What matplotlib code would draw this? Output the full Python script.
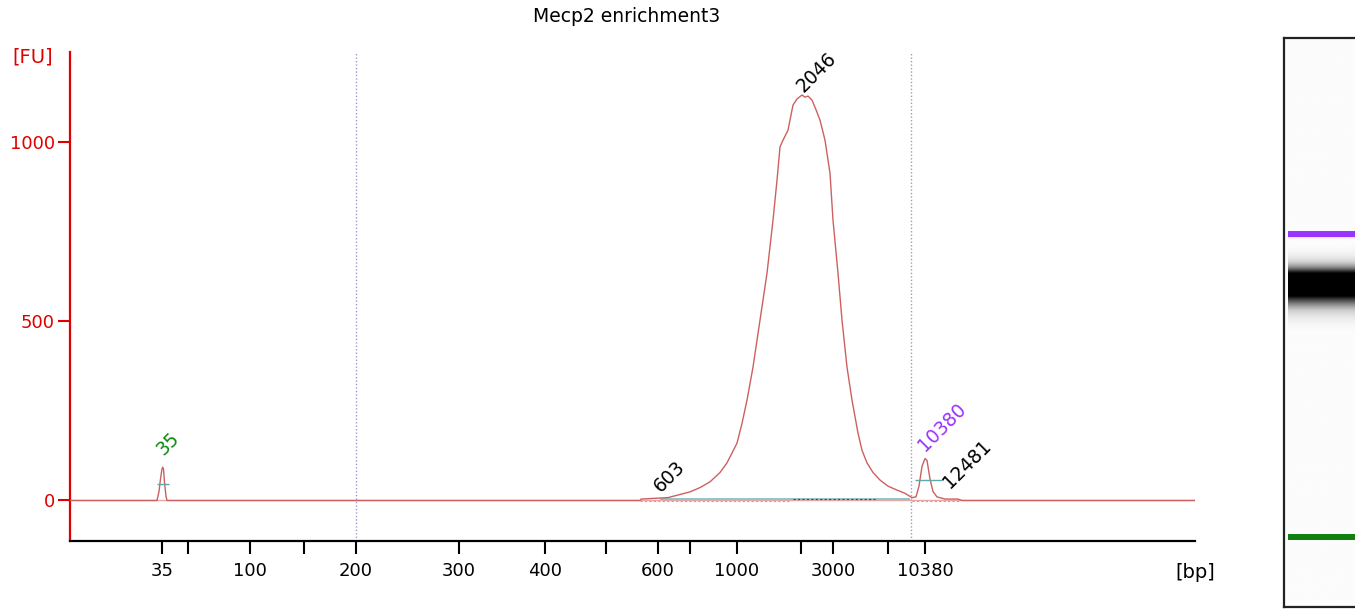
import numpy as np
import matplotlib
matplotlib.use("Agg")
import matplotlib.pyplot as plt

# migration position (arbitrary units along the run) and fluorescence [FU]
trace_pos = [70, 157, 159, 160.5, 162, 162.7, 163.5, 164.5, 166, 167,
             640, 641, 668, 690, 700, 710, 720, 727, 737, 742, 747, 753, 760,
             767, 773, 777, 780, 783, 788, 793, 797, 802, 805, 808, 812, 816,
             820, 825, 830, 833, 838, 842, 847, 852, 858, 862, 867, 873, 880,
             888, 897, 905, 912, 916, 919, 922, 925, 927, 930, 933, 937, 945,
             958, 962, 1195]
trace_fu = [0, 0, 25, 60, 88, 93, 88, 50, 12, 0,
            0, 4, 8, 24, 36, 52, 78, 105, 160, 215, 280, 372, 503,
            634, 782, 893, 986, 1005, 1033, 1103, 1120, 1131, 1125, 1128, 1117, 1090,
            1061, 1005, 913, 782, 634, 503, 372, 280, 188, 140, 105, 78, 57,
            40, 29, 20, 8, 10, 40, 95, 117, 112, 60, 25, 10, 4,
            4, 0, 0]

# size ladder on the x axis
tick_pos = [162, 250, 356, 459, 545, 658, 737, 833, 925]
tick_lbl = ["35", "100", "200", "300", "400", "600", "1000", "3000", "10380"]
minor_pos = [188, 304, 606, 690, 801, 888]

# called peaks: label, position, height, colour
peak_lbl = ["35", "603", "2046", "10380", "12481"]
peak_pos = [166, 664, 806, 928, 953]
peak_fu = [115, 12, 1130, 128, 24]
peak_col = ["#108a10", "black", "black", "#9933ff", "black"]

marker_lines = [356, 911]  # lower / upper marker

fig = plt.figure(figsize=(13.55, 6.09), dpi=100)
ax = fig.add_axes([70/1355, 68/609, 1125/1355, 489/609])

ax.axhline(0, color="#e8a8a8", lw=1, zorder=1)
ax.plot(trace_pos, trace_fu, color="#cc6060", lw=1, zorder=3)

# peak / region bars
ax.hlines(46, 156.5, 169, color="#5fa8a8", lw=1, zorder=4)
ax.hlines(58, 915, 942, color="#5fa8a8", lw=1, zorder=4)
ax.hlines(3, 660, 910, color="#7fbcbc", lw=1.2, zorder=2)
ax.hlines(4, 793, 875, color="#803030", lw=0.8, ls=(0, (2, 2)), zorder=2)
ax.hlines(-2, 640, 790, color="#e89090", lw=0.8, ls=(0, (2, 2)), zorder=2)
ax.hlines(-2, 912, 960, color="#e89090", lw=0.8, ls=(0, (2, 2)), zorder=2)

for m in marker_lines:
    ax.axvline(m, color="#9a9ac8", lw=1, ls=(0, (1, 1.5)), zorder=0)

for lbl, p, f, c in zip(peak_lbl, peak_pos, peak_fu, peak_col):
    ax.text(p, f, lbl, color=c, fontsize=13.5, rotation=45,
            rotation_mode="anchor", ha="left", va="bottom")

ax.set_xlim(70, 1195)
ax.set_ylim(-113, 1251)
ax.set_xticks(tick_pos)
ax.set_xticklabels(tick_lbl)
ax.set_xticks(minor_pos, minor=True)
ax.set_yticks([0, 500, 1000])
ax.tick_params(axis="x", which="both", length=9, width=1.5, color="black",
               labelsize=13, pad=6)
ax.tick_params(axis="y", length=9, width=1.5, color="#e00000",
               labelcolor="#e00000", labelsize=13, pad=2)
for s in ["top", "right"]:
    ax.spines[s].set_visible(False)
ax.spines["left"].set_color("#e00000")
ax.spines["left"].set_linewidth(1.6)
ax.spines["bottom"].set_linewidth(1.6)

fig.text(627/1355, 1 - 17/609, "Mecp2 enrichment3", ha="center", va="center",
         fontsize=13.5)
fig.text(33/1355, 1 - 57/609, "[FU]", ha="center", va="center",
         fontsize=14, color="#e00000")
fig.text(1195/1355, 1 - 572/609, "[bp]", ha="center", va="center",
         fontsize=14)

# virtual gel lane
gax = fig.add_axes([1284/1355, 2/609, 80/1355, 569/609])
gax.set_facecolor("#fcfcfc")
lo, hi = -14, 1419
gpos = np.linspace(lo, hi, 800)
gfu = np.interp(gpos + 5, trace_pos, trace_fu)
shade = 1 - np.clip((gfu - 10) / 800, 0, 1)
shade = np.minimum(shade, 0.985)
gax.imshow(shade[:, None], cmap="gray", vmin=0, vmax=1, aspect="auto",
           origin="lower", extent=[0.05, 1, lo, hi], interpolation="bilinear")
gax.hlines(925, 0.05, 1, color="#9933ff", lw=4.3)
gax.hlines(162, 0.05, 1, color="#108010", lw=4.3)
gax.set_xlim(0, 1)
gax.set_ylim(lo, hi)
gax.set_xticks([])
gax.set_yticks([])
for s in gax.spines.values():
    s.set_linewidth(1.6)
    s.set_color("#222222")

fig.savefig("out.png", dpi=100)
